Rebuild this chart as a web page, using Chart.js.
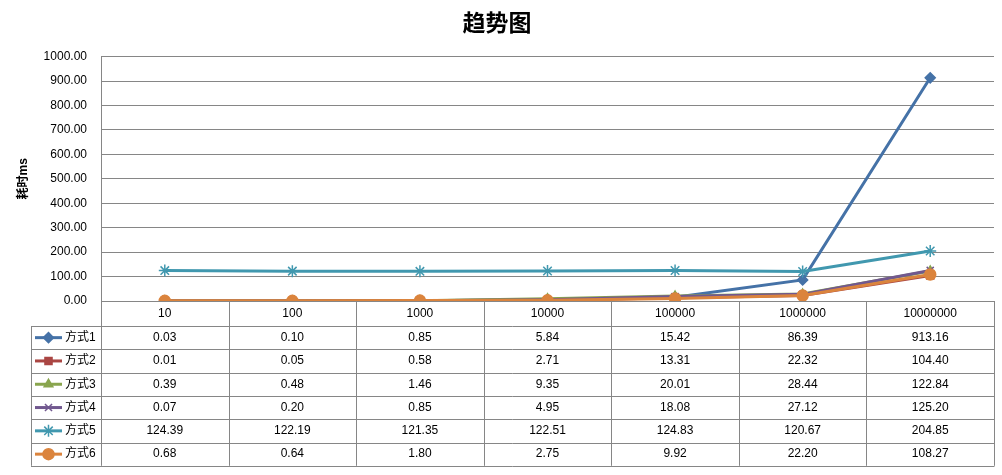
<!DOCTYPE html>
<html>
<head>
<meta charset="utf-8">
<script src="https://cdn.jsdelivr.net/npm/chart.js@4/dist/chart.umd.min.js"></script>
<style>
  html, body { margin: 0; padding: 0; background: #fff; }
  #wrap { width: 1002px; height: 475px; }
</style>
</head>
<body>
<div id="wrap"><canvas id="c" width="1002" height="475"></canvas></div>
<script>
const categories = ['10', '100', '1000', '10000', '100000', '1000000', '10000000'];
const seriesNames = ['方式1', '方式2', '方式3', '方式4', '方式5', '方式6'];
const way1 = [0.03, 0.10, 0.85, 5.84, 15.42, 86.39, 913.16];
const way2 = [0.01, 0.05, 0.58, 2.71, 13.31, 22.32, 104.40];
const way3 = [0.39, 0.48, 1.46, 9.35, 20.01, 28.44, 122.84];
const way4 = [0.07, 0.20, 0.85, 4.95, 18.08, 27.12, 125.20];
const way5 = [124.39, 122.19, 121.35, 122.51, 124.83, 120.67, 204.85];
const way6 = [0.68, 0.64, 1.80, 2.75, 9.92, 22.20, 108.27];

const colors = ['#4572A7', '#AA4643', '#89A54E', '#71588F', '#4198AF', '#DB843D'];
const markers = ['rectRot', 'rect', 'triangle', 'crossRot', 'star', 'circle'];
const radii = [5, 5, 5, 5, 6, 5.5];

const FONT = 'Liberation Sans, Noto Sans CJK SC, sans-serif';
const GRID = '#868686';

const allSeries = [way1, way2, way3, way4, way5, way6];

// Excel style data table under the plot, lined up with the category axis
const dataTable = {
  id: 'dataTable',
  afterDraw(chart) {
    const { ctx, chartArea, scales } = chart;
    const x = scales.x;
    const step = (chartArea.right - chartArea.left) / categories.length;
    const top = chartArea.bottom;
    const headH = 25;
    const rowH = 23.3;
    const tableLeft = 31;
    const bottom = top + headH + rowH * allSeries.length;

    ctx.save();
    ctx.strokeStyle = GRID;
    ctx.lineWidth = 1;
    ctx.beginPath();
    // verticals
    for (let i = 0; i <= categories.length; i++) {
      const px = Math.round(chartArea.left + i * step) + 0.5;
      ctx.moveTo(px, top);
      ctx.lineTo(px, bottom);
    }
    ctx.moveTo(tableLeft + 0.5, top + headH);
    ctx.lineTo(tableLeft + 0.5, bottom);
    // horizontals
    for (let r = 0; r <= allSeries.length; r++) {
      const py = Math.round(top + headH + r * rowH) + 0.5;
      ctx.moveTo(tableLeft, py);
      ctx.lineTo(chartArea.right + 0.5, py);
    }
    ctx.stroke();

    ctx.font = '12px ' + FONT;
    ctx.fillStyle = '#000';
    ctx.textBaseline = 'middle';
    allSeries.forEach((vals, r) => {
      const cy = top + headH + r * rowH + rowH / 2;
      ctx.textAlign = 'center';
      vals.forEach((v, i) => {
        ctx.fillText(v.toFixed(2), x.getPixelForValue(i), cy);
      });
      // legend key
      ctx.strokeStyle = colors[r];
      ctx.fillStyle = colors[r];
      ctx.lineWidth = 3;
      ctx.beginPath();
      ctx.moveTo(35, cy);
      ctx.lineTo(62, cy);
      ctx.stroke();
      ctx.lineWidth = 1.5;
      Chart.helpers.drawPoint(ctx, {
        pointStyle: markers[r], radius: radii[r], rotation: 0, borderWidth: 1.5
      }, 48.5, cy);
      ctx.fillStyle = '#000';
      ctx.textAlign = 'left';
      ctx.fillText(seriesNames[r], 65, cy);
    });
    ctx.restore();
  }
};

new Chart(document.getElementById('c'), {
  type: 'line',
  data: {
    labels: categories,
    datasets: allSeries.map((vals, i) => ({
      label: seriesNames[i],
      data: vals,
      borderColor: colors[i],
      backgroundColor: colors[i],
      borderWidth: 3,
      pointStyle: markers[i],
      pointRadius: radii[i],
      pointBorderWidth: 1.5,
      pointBorderColor: colors[i],
      pointBackgroundColor: colors[i],
      tension: 0,
      order: allSeries.length - i
    }))
  },
  options: {
    responsive: false,
    animation: false,
    devicePixelRatio: 1,
    layout: { padding: { left: 0, right: 8, top: 0, bottom: 0 } },
    plugins: {
      legend: { display: false },
      tooltip: { enabled: false },
      title: {
        display: true,
        text: '趋势图',
        color: '#000',
        font: { family: 'Noto Sans CJK SC', size: 23, weight: 'bold' },
        padding: { top: 8, bottom: 21 }
      }
    },
    scales: {
      x: {
        offset: true,
        grid: { display: false, drawTicks: false },
        border: { display: false },
        ticks: { color: '#000', font: { family: FONT, size: 12 }, padding: 5, maxRotation: 0 },
        afterFit(s) { s.height = 174; }
      },
      y: {
        min: 0,
        max: 1000,
        grid: { color: GRID, lineWidth: 1, drawTicks: false },
        border: { display: true, color: GRID, width: 1 },
        ticks: {
          stepSize: 100,
          color: '#000',
          font: { family: FONT, size: 12 },
          padding: 14,
          callback: v => Number(v).toFixed(2)
        },
        title: {
          display: true,
          text: '耗时ms',
          color: '#000',
          font: { family: FONT, size: 12, weight: 'bold' },
          padding: { top: 16, bottom: 0 }
        },
        afterFit(s) { s.width = 101; }
      }
    }
  },
  plugins: [dataTable]
});
</script>
</body>
</html>
